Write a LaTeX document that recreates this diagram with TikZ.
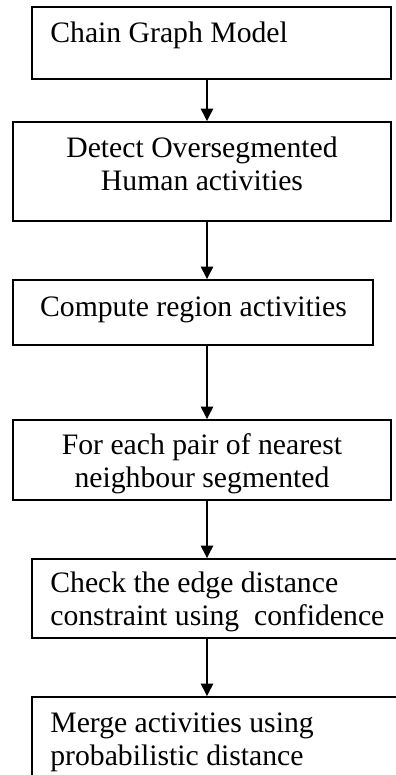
\documentclass[tikz,border=0pt]{standalone}
\usepackage{fontspec}
\setmainfont{Liberation Serif}
\usepackage{tikz}
\usetikzlibrary{arrows.meta}

\begin{document}
\begin{tikzpicture}[x=1cm,y=1cm,
  stepbox/.style={draw=black,line width=1.1pt,rectangle,inner sep=0pt},
  steptext/.style={inner sep=0pt,font=\fontsize{16.9}{18.8}\selectfont},
  flowarrow/.style={draw=black,line width=0.8pt,-{Triangle[width=7pt,length=7pt]}}]
\path[use as bounding box] (0,0) rectangle (7.92,15.50);
\clip (0,0) rectangle (7.92,15.50);
\coordinate (ax) at (4.14,0);
% boxes
\node[stepbox,minimum width=7.18cm,minimum height=1.44cm] (chain) at (4.23,14.64) {};
\node[stepbox,minimum width=7.56cm,minimum height=1.98cm] (detect) at (4.04,12.07) {};
\node[stepbox,minimum width=7.20cm,minimum height=1.30cm] (region) at (3.86,9.25) {};
\node[stepbox,minimum width=7.56cm,minimum height=1.60cm] (pair) at (4.04,6.30) {};
\node[stepbox,minimum width=7.56cm,minimum height=1.58cm] (check) at (4.42,3.53) {};
\node[stepbox,minimum width=7.56cm,minimum height=2.06cm] (merge) at (4.42,0.53) {};
% texts
\node[steptext,anchor=base west] (chaintxt) at (1.00,14.64) {Chain Graph Model};
\node[steptext,align=center] (detecttxt) at (4.04,12.23) {Detect Oversegmented\\Human activities};
\node[steptext,anchor=base] (regiontxt) at (3.87,9.16) {Compute region activities};
\node[steptext,align=center] (pairtxt) at (4.04,6.22) {For each pair of nearest\\neighbour segmented};
\node[steptext,align=left,anchor=west] (checktxt) at (1.00,3.465) {Check the edge distance\\constraint using\ \ confidence};
\node[steptext,align=left,anchor=west] (mergetxt) at (1.00,0.655) {Merge activities using\\probabilistic distance};
% arrows
\draw[flowarrow] (chain.south -| ax) -- (detect.north -| ax);
\draw[flowarrow] (detect.south -| ax) -- (region.north -| ax);
\draw[flowarrow] (region.south -| ax) -- (pair.north -| ax);
\draw[flowarrow] (pair.south -| ax) -- (check.north -| ax);
\draw[flowarrow] (check.south -| ax) -- (merge.north -| ax);
\end{tikzpicture}
\end{document}
